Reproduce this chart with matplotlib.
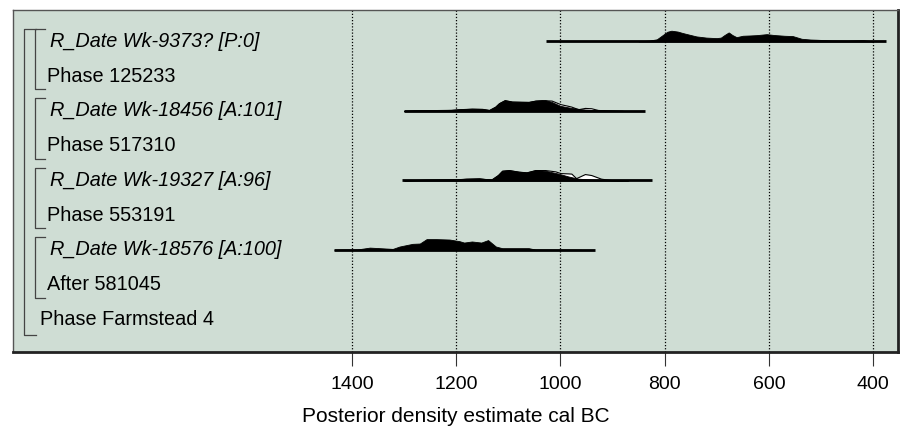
import numpy as np
import matplotlib.pyplot as plt

plt.rcParams['font.family'] = ['Liberation Sans', 'DejaVu Sans']

# row labels, top to bottom
labels = ["R_Date Wk-9373? [P:0]", "Phase 125233",
          "R_Date Wk-18456 [A:101]", "Phase 517310",
          "R_Date Wk-19327 [A:96]", "Phase 553191",
          "R_Date Wk-18576 [A:100]", "After 581045",
          "Phase Farmstead 4"]

# R_Date rows: (row index, range start, range end)
date_rows = [0, 2, 4, 6]
range_start = [1027, 1301, 1305, 1434]
range_end = [375, 838, 825, 933]

# posterior densities (cal BC, relative height)
post_yr_1 = [850, 830, 815, 805, 795, 787, 775, 765, 750, 739, 720, 700, 692, 685, 677, 670, 662, 650,
             635, 623, 604, 590, 570, 554, 537, 520, 508, 480, 450, 419, 405, 400]
post_p_1 = [0, 0.08, 0.2, 0.55, 0.9, 1.0, 0.92, 0.78, 0.6, 0.47, 0.36, 0.31, 0.36, 0.6, 0.84, 0.6, 0.4, 0.53,
            0.56, 0.59, 0.68, 0.6, 0.53, 0.5, 0.25, 0.18, 0.16, 0.1, 0.09, 0.12, 0.05, 0]

post_yr_2 = [1300, 1280, 1240, 1210, 1194, 1170, 1150, 1137, 1125, 1118, 1107, 1093, 1075, 1061, 1048, 1029,
             1017, 1000, 979, 960, 934, 900, 880]
post_p_2 = [0, 0.05, 0.08, 0.1, 0.16, 0.21, 0.19, 0.09, 0.4, 0.72, 1.0, 0.87, 0.85, 0.84, 0.96, 1.0,
            0.84, 0.47, 0.28, 0.16, 0.07, 0.03, 0]
prior_yr_2 = [1300, 1280, 1240, 1210, 1194, 1170, 1150, 1137, 1125, 1118, 1107, 1093, 1075, 1061, 1048, 1036,
              1017, 1000, 985, 979, 966, 953, 941, 928, 903, 880]
prior_p_2 = [0, 0.05, 0.08, 0.1, 0.16, 0.21, 0.19, 0.09, 0.4, 0.72, 1.0, 0.87, 0.85, 0.84, 0.96, 1.0,
             0.96, 0.63, 0.47, 0.4, 0.16, 0.28, 0.25, 0.09, 0.03, 0]

post_yr_3 = [1300, 1260, 1200, 1181, 1156, 1133, 1120, 1112, 1099, 1080, 1065, 1048, 1029, 1004, 985, 966,
             941, 914, 880]
post_p_3 = [0, 0.06, 0.1, 0.16, 0.19, 0.07, 0.5, 0.9, 0.96, 0.81, 0.75, 0.96, 0.9, 0.63, 0.37, 0.16,
            0.09, 0.03, 0]
prior_yr_3 = [1300, 1260, 1200, 1181, 1156, 1133, 1120, 1112, 1099, 1080, 1065, 1048, 1029, 1010, 1000, 985,
              979, 970, 953, 941, 922, 903, 870]
prior_p_3 = [0, 0.06, 0.1, 0.16, 0.19, 0.07, 0.5, 0.9, 0.96, 0.81, 0.75, 0.96, 0.96, 0.84, 0.68, 0.65,
             0.63, 0.21, 0.59, 0.5, 0.16, 0.03, 0]

post_yr_4 = [1434, 1420, 1390, 1366, 1347, 1322, 1309, 1284, 1270, 1257, 1238, 1213, 1194, 1185, 1170, 1152,
             1139, 1124, 1112, 1061, 1048, 1000, 960]
post_p_4 = [0, 0.03, 0.04, 0.21, 0.16, 0.09, 0.31, 0.56, 0.59, 1.0, 1.0, 0.96, 0.81, 0.68, 0.78, 0.68,
            0.91, 0.31, 0.16, 0.16, 0.03, 0.02, 0]

posteriors = [(post_yr_1, post_p_1), (post_yr_2, post_p_2), (post_yr_3, post_p_3), (post_yr_4, post_p_4)]
priors = [None, (prior_yr_2, prior_p_2), (prior_yr_3, prior_p_3), None]

ticks = [1400, 1200, 1000, 800, 600, 400]

bg = "#cfddd4"
peak = 0.31  # row units for relative height 1

fig = plt.figure(figsize=(9.06, 4.32), dpi=100)
ax = fig.add_axes([13 / 906, 1 - 352 / 432, 885 / 906, 342 / 432])
ax.set_facecolor(bg)
ax.set_xlim(2051, 352)
ax.set_ylim(8.94, -0.906)

for t in ticks:
    ax.axvline(t, color="black", lw=0.9, ls=(0, (1, 1.5)), zorder=1)

for k, r in enumerate(date_rows):
    if priors[k] is not None:
        yr, p = priors[k]
        ax.fill_between(yr, r, r - np.array(p) * peak, facecolor="white", edgecolor="black", lw=0.8, zorder=2)
    yr, p = posteriors[k]
    ax.fill_between(yr, r, r - np.array(p) * peak, facecolor="black", edgecolor="black", lw=0.6, zorder=3)
    ax.plot([range_start[k], range_end[k]], [r, r], color="black", lw=2, solid_capstyle="butt", zorder=4)

# row labels
for i, lab in enumerate(labels):
    if lab.startswith("R_Date"):
        ax.text(1980, i, lab, fontsize=14.3, style="italic", va="center", ha="left")
    elif i == 8:
        ax.text(1999, i, lab, fontsize=14.3, va="center", ha="left")
    else:
        ax.text(1985, i, lab, fontsize=14.3, va="center", ha="left")

# brackets
bc = "#444444"
for r in [0, 2, 4, 6]:
    top, bot = r - 0.37, r + 1.38
    ax.plot([1990, 2009, 2009, 1990], [top, top, bot, bot], color=bc, lw=0.9, zorder=2)
top, bot = -0.37, 8.45
ax.plot([2007, 2030, 2030, 2007], [top, top, bot, bot], color=bc, lw=0.9, zorder=2)

ax.set_yticks([])
ax.set_xticks(ticks)
ax.set_xticklabels([str(t) for t in ticks], fontsize=14)
ax.tick_params(axis="x", direction="out", length=10, width=0.8, color="#333333", pad=7)
for s in ["top", "left"]:
    ax.spines[s].set_color("#555555")
    ax.spines[s].set_linewidth(1)
for s in ["right", "bottom"]:
    ax.spines[s].set_color("#222222")
    ax.spines[s].set_linewidth(2)
ax.set_xlabel("Posterior density estimate cal BC", fontsize=15, labelpad=10)

fig.savefig("out.png", dpi=100)
